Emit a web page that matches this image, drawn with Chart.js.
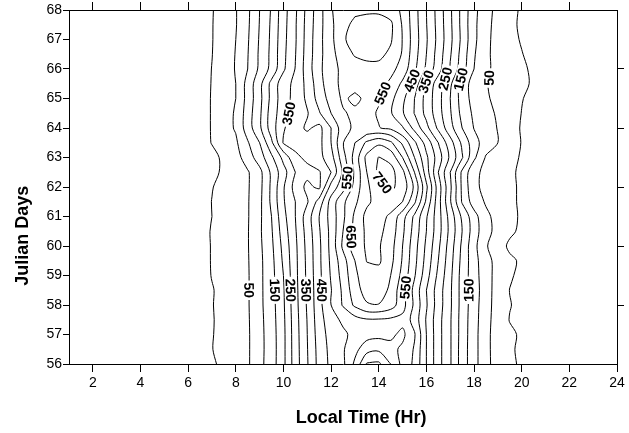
<!DOCTYPE html>
<html>
<head>
<meta charset="utf-8">
<title>Julian Days vs Local Time</title>
<script src="https://cdn.jsdelivr.net/npm/chart.js@4.4.1/dist/chart.umd.min.js"></script>
<style>
  html, body { margin: 0; padding: 0; background: #fff; }
  #contourChart { display: block; }
</style>
</head>
<body>
<canvas id="contourChart" width="629" height="433"></canvas>
<script>
// grid: local time (hr) across, julian day down
const hours = [6.5, 7, 7.5, 8, 8.5, 9, 9.5, 10, 10.5, 11, 11.5, 12, 12.5, 13, 13.5,
               14, 14.5, 15, 15.5, 16, 16.5, 17, 17.5, 18, 18.5, 19, 19.5, 20, 20.5];
const days = [68, 67.5, 67, 66.5, 66, 65.5, 65, 64.5, 64, 63.5, 63, 62.5, 62,
              61.5, 61, 60.5, 60, 59.5, 59, 58.5, 58, 57.5, 57, 56.5, 56];
const radiation = [
  [-20, -3, 22, 47, 90, 150, 205, 280, 342, 415, 480, 545, 585, 590, 590, 588, 578, 540, 470, 400, 330, 258, 185, 115, 65, 38, 14, -6, -20], // 68
  [-20, -2, 22, 47, 92, 152, 208, 282, 345, 418, 482, 540, 585, 612, 625, 630, 610, 545, 472, 402, 332, 260, 185, 112, 62, 36, 12, -8, -22], // 67.5
  [-20, -2, 24, 50, 95, 155, 210, 285, 345, 420, 485, 538, 592, 625, 640, 635, 606, 548, 475, 405, 335, 262, 188, 112, 60, 35, 14, -4, -20], // 67
  [-20, -1, 25, 52, 98, 158, 212, 288, 348, 422, 485, 535, 575, 605, 615, 612, 590, 545, 470, 400, 328, 255, 180, 105, 58, 36, 18, 2, -15], // 66.5
  [-20, 1, 26, 53, 100, 160, 215, 292, 352, 425, 488, 535, 560, 575, 582, 585, 565, 530, 460, 390, 320, 245, 172, 100, 58, 38, 22, 8, -8], // 66
  [-20, 2, 27, 50, 118, 185, 265, 330, 362, 415, 480, 535, 560, 565, 575, 570, 540, 490, 430, 340, 275, 210, 125, 80, 52, 40, 25, 10, -6], // 65.5
  [-20, 3, 27, 50, 118, 185, 265, 330, 365, 410, 470, 520, 558, 540, 560, 555, 515, 462, 400, 332, 268, 200, 128, 80, 55, 40, 18, 2, -12], // 65
  [-20, 3, 30, 55, 125, 190, 275, 330, 375, 396, 445, 500, 545, 560, 565, 545, 505, 455, 398, 335, 270, 205, 135, 90, 62, 45, 22, -1, -15], // 64.5
  [-20, 3, 30, 55, 125, 190, 275, 345, 380, 408, 385, 450, 530, 560, 555, 552, 540, 505, 435, 365, 290, 218, 150, 98, 70, 48, 25, -5, -18], // 64
  [-20, 2, 20, 42, 95, 150, 240, 355, 365, 372, 385, 450, 548, 600, 660, 690, 660, 590, 510, 430, 350, 270, 190, 120, 75, 50, 25, -2, -18], // 63.5
  [-20, -12, 8, 30, 75, 125, 190, 265, 340, 360, 385, 430, 530, 620, 715, 752, 735, 650, 550, 460, 375, 290, 205, 110, 45, 30, 15, -5, -18], // 63
  [-20, -15, 10, 28, 45, 85, 160, 230, 300, 335, 345, 400, 510, 610, 700, 762, 768, 715, 600, 475, 350, 250, 140, 60, 40, 30, 8, -8, -20], // 62.5
  [-20, -2, 15, 30, 45, 85, 160, 245, 320, 362, 340, 470, 530, 620, 690, 735, 758, 735, 640, 510, 375, 260, 140, 60, 38, 25, 8, -6, -15], // 62
  [-20, 1, 16, 31, 46, 88, 160, 245, 300, 345, 420, 520, 590, 640, 690, 720, 730, 700, 610, 490, 370, 255, 145, 75, 45, 28, 8, -6, -18], // 61.5
  [-20, 0, 16, 31, 46, 90, 150, 235, 300, 375, 450, 520, 590, 660, 715, 720, 690, 620, 540, 455, 370, 280, 190, 120, 60, 35, 10, -5, -18], // 61
  [-20, 4, 18, 33, 47, 92, 145, 225, 295, 370, 445, 515, 600, 665, 710, 712, 680, 610, 530, 450, 370, 285, 200, 125, 65, 35, 8, -8, -20], // 60.5
  [-20, 3, 17, 32, 47, 90, 140, 215, 290, 365, 440, 515, 610, 680, 705, 705, 670, 600, 520, 440, 360, 275, 190, 115, 55, 20, -8, -20, -28], // 60
  [-20, 3, 16, 31, 46, 88, 135, 208, 288, 362, 440, 510, 580, 650, 702, 708, 665, 595, 515, 432, 350, 268, 185, 120, 65, 35, 8, -6, -18], // 59.5
  [-20, 2, 15, 30, 45, 88, 133, 200, 287, 360, 438, 505, 570, 640, 680, 680, 650, 585, 505, 420, 338, 262, 180, 122, 68, 33, 5, -10, -20], // 59
  [-20, -3, 14, 29, 45, 88, 132, 195, 285, 357, 436, 498, 560, 630, 670, 675, 640, 565, 485, 400, 325, 258, 180, 125, 70, 30, -1, -15, -25], // 58.5
  [-20, -2, 14, 29, 45, 88, 130, 193, 283, 356, 434, 500, 555, 610, 645, 648, 625, 570, 490, 405, 325, 258, 180, 122, 68, 30, 2, -12, -22], // 58
  [-20, -3, 13, 28, 44, 86, 128, 190, 280, 352, 430, 480, 510, 530, 545, 545, 540, 535, 480, 395, 318, 255, 178, 120, 66, 28, -2, -14, -24], // 57.5
  [-20, -2, 12, 27, 43, 85, 126, 188, 278, 350, 425, 470, 490, 515, 530, 535, 540, 562, 505, 400, 318, 255, 178, 118, 64, 26, 8, -6, -18], // 57
  [-20, -1, 12, 27, 43, 85, 125, 188, 277, 348, 420, 465, 495, 535, 580, 590, 565, 540, 495, 400, 318, 255, 176, 118, 64, 26, 6, -8, -18], // 56.5
  [-20, -8, 13, 28, 43, 86, 126, 188, 276, 346, 418, 462, 490, 560, 655, 660, 600, 535, 490, 400, 318, 255, 176, 118, 64, 28, 8, -6, -18]  // 56
];
const levels = [0, 50, 100, 150, 200, 250, 300, 350, 400, 450, 500, 550, 600, 650, 700, 750, 800];

const xTicks = [2, 4, 6, 8, 10, 12, 14, 16, 18, 20, 22, 24];
const yTicks = [56, 57, 58, 59, 60, 61, 62, 63, 64, 65, 66, 67, 68];
const topTicks = [2, 4, 6, 8, 10, 12, 14, 16, 18, 20, 22];
const rightTicks = [58, 60, 62, 64, 66];

// where the level labels sit on the picture
const labelLevels = [350, 550, 450, 350, 250, 150, 50, 550, 750, 650, 50, 150, 250, 350, 450, 550, 150];
const labelHours  = [10.2, 14.1, 15.4, 15.9, 16.7, 17.3, 18.6, 12.8, 14.35, 12.9, 8.7, 9.7, 10.3, 10.95, 11.6, 15.1, 17.75];
const labelDays   = [64.5, 65.2, 65.6, 65.6, 65.7, 65.7, 65.7, 62.3, 62.3, 60.3, 58.5, 58.5, 58.5, 58.5, 58.5, 58.6, 58.5];

const narrowFont = '"Liberation Sans Narrow", "Arial Narrow", "Liberation Sans", Arial, sans-serif';
const plainFont = '"Liberation Sans", Arial, sans-serif';

// marching squares on the grid, one list of segments per level
function edgePoint(r0, c0, r1, c1, level) {
  const v0 = radiation[r0][c0], v1 = radiation[r1][c1];
  const t = (level - v0) / (v1 - v0);
  return {
    x: hours[c0] + (hours[c1] - hours[c0]) * t,
    y: days[r0] + (days[r1] - days[r0]) * t
  };
}

function traceLevel(level) {
  const lv = level + 0.01;
  const points = new Map();
  const segs = [];
  for (let r = 0; r < days.length - 1; r++) {
    for (let c = 0; c < hours.length - 1; c++) {
      const corners = [[r, c], [r, c + 1], [r + 1, c + 1], [r + 1, c]];
      const vals = corners.map(([a, b]) => radiation[a][b]);
      const up = vals.map(v => v > lv);
      const keys = [
        'h' + r + '_' + c,
        'v' + r + '_' + (c + 1),
        'h' + (r + 1) + '_' + c,
        'v' + r + '_' + c
      ];
      const crossed = [];
      for (let e = 0; e < 4; e++) {
        const n = (e + 1) % 4;
        if (up[e] !== up[n]) {
          crossed.push(e);
          if (!points.has(keys[e])) {
            points.set(keys[e], edgePoint(corners[e][0], corners[e][1], corners[n][0], corners[n][1], lv));
          }
        }
      }
      if (crossed.length === 2) {
        segs.push({ a: keys[crossed[0]], b: keys[crossed[1]] });
      } else if (crossed.length === 4) {
        const mid = (vals[0] + vals[1] + vals[2] + vals[3]) / 4 > lv;
        if (mid === up[0]) {
          segs.push({ a: keys[0], b: keys[1] });
          segs.push({ a: keys[2], b: keys[3] });
        } else {
          segs.push({ a: keys[3], b: keys[0] });
          segs.push({ a: keys[1], b: keys[2] });
        }
      }
    }
  }
  return chainSegments(segs).map(line => line.map(k => points.get(k)));
}

function chainSegments(segs) {
  const adj = new Map();
  segs.forEach((s, i) => {
    [s.a, s.b].forEach(k => {
      if (!adj.has(k)) adj.set(k, []);
      adj.get(k).push(i);
    });
  });
  const used = new Array(segs.length).fill(false);
  const walk = (startKey, startSeg) => {
    const keys = [startKey];
    let key = startKey, si = startSeg;
    while (si !== undefined && !used[si]) {
      used[si] = true;
      key = segs[si].a === key ? segs[si].b : segs[si].a;
      keys.push(key);
      si = adj.get(key).find(j => !used[j]);
    }
    return keys;
  };
  const lines = [];
  adj.forEach((list, key) => {
    if (list.length === 1 && !used[list[0]]) lines.push(walk(key, list[0]));
  });
  segs.forEach((s, i) => {
    if (!used[i]) lines.push(walk(s.a, i));
  });
  return lines;
}

const contourLines = {};
const datasets = [];
levels.forEach(level => {
  contourLines[level] = traceLevel(level);
  contourLines[level].forEach(line => {
    datasets.push({
      data: line,
      showLine: true,
      borderColor: '#000',
      borderWidth: 1,
      pointRadius: 0,
      tension: 0.3,
      fill: false
    });
  });
});

// level numbers written along the lines, with the line broken under them
const contourLabels = {
  id: 'contourLabels',
  afterDatasetsDraw(chart) {
    const { ctx, scales: { x, y } } = chart;
    ctx.save();
    ctx.font = 'bold 14px ' + narrowFont;
    ctx.textAlign = 'center';
    ctx.textBaseline = 'middle';
    labelLevels.forEach((level, i) => {
      const ax = x.getPixelForValue(labelHours[i]);
      const ay = y.getPixelForValue(labelDays[i]);
      let best = null;
      contourLines[level].forEach(line => {
        const px = line.map(p => ({ x: x.getPixelForValue(p.x), y: y.getPixelForValue(p.y) }));
        for (let k = 0; k < px.length - 1; k++) {
          const p = px[k], q = px[k + 1];
          const dx = q.x - p.x, dy = q.y - p.y;
          const len2 = dx * dx + dy * dy || 1;
          let t = ((ax - p.x) * dx + (ay - p.y) * dy) / len2;
          t = Math.max(0, Math.min(1, t));
          const cx = p.x + dx * t, cy = p.y + dy * t;
          const d = (cx - ax) ** 2 + (cy - ay) ** 2;
          if (!best || d < best.d) best = { d, cx, cy, px, k };
        }
      });
      if (!best) return;
      const p0 = best.px[Math.max(0, best.k - 1)];
      const p1 = best.px[Math.min(best.px.length - 1, best.k + 2)];
      let angle = Math.atan2(p1.y - p0.y, p1.x - p0.x);
      if (angle >= Math.PI / 2) angle -= Math.PI;
      if (angle < -Math.PI / 2) angle += Math.PI;
      const text = String(level);
      const w = ctx.measureText(text).width;
      ctx.save();
      ctx.translate(best.cx, best.cy);
      ctx.rotate(angle);
      ctx.fillStyle = '#fff';
      ctx.fillRect(-w / 2 - 2, -6, w + 4, 12);
      ctx.fillStyle = '#000';
      ctx.fillText(text, 0, 1);
      ctx.restore();
    });
    ctx.restore();
  }
};

// axis titles sit off-centre in the original, so they are placed by hand
const axisTitles = {
  id: 'axisTitles',
  afterDraw(chart) {
    const { ctx, chartArea } = chart;
    ctx.save();
    ctx.fillStyle = '#000';
    ctx.font = 'bold 18px ' + plainFont;
    ctx.textAlign = 'center';
    ctx.textBaseline = 'middle';
    ctx.fillText('Local Time (Hr)', chartArea.left + 0.533 * (chartArea.right - chartArea.left), 418);
    ctx.translate(23, chartArea.top + 0.638 * (chartArea.bottom - chartArea.top));
    ctx.rotate(-Math.PI / 2);
    ctx.fillText('Julian Days', 0, 0);
    ctx.restore();
  }
};

const setTicks = list => scale => { scale.ticks = list.map(v => ({ value: v })); };
const tickFont = { family: narrowFont, size: 14 };

new Chart(document.getElementById('contourChart'), {
  type: 'scatter',
  data: { datasets },
  options: {
    responsive: false,
    animation: false,
    devicePixelRatio: 1,
    layout: { padding: 0 },
    plugins: { legend: { display: false }, tooltip: { enabled: false } },
    scales: {
      x: {
        type: 'linear', position: 'bottom', min: 1, max: 24,
        afterBuildTicks: setTicks(xTicks),
        afterFit: s => { s.height = 69; },
        ticks: { color: '#000', font: tickFont, padding: 3, maxRotation: 0 },
        grid: { drawOnChartArea: false, tickLength: 8, color: '#000' },
        border: { color: '#000', width: 1 }
      },
      x2: {
        type: 'linear', position: 'top', min: 1, max: 24,
        afterBuildTicks: setTicks(topTicks),
        afterFit: s => { s.height = 10; },
        ticks: { display: false },
        grid: { drawOnChartArea: false, tickLength: 8, color: '#000' },
        border: { color: '#000', width: 1 }
      },
      y: {
        type: 'linear', position: 'left', min: 56, max: 68,
        afterBuildTicks: setTicks(yTicks),
        afterFit: s => { s.width = 69; },
        ticks: { color: '#000', font: tickFont, padding: 1 },
        grid: { drawOnChartArea: false, tickLength: 6, color: '#000' },
        border: { color: '#000', width: 1 }
      },
      y2: {
        type: 'linear', position: 'right', min: 56, max: 68,
        afterBuildTicks: setTicks(rightTicks),
        afterFit: s => { s.width = 12; },
        ticks: { display: false },
        grid: { drawOnChartArea: false, tickLength: 7, color: '#000' },
        border: { color: '#000', width: 1 }
      }
    }
  },
  plugins: [contourLabels, axisTitles]
});
</script>
</body>
</html>
